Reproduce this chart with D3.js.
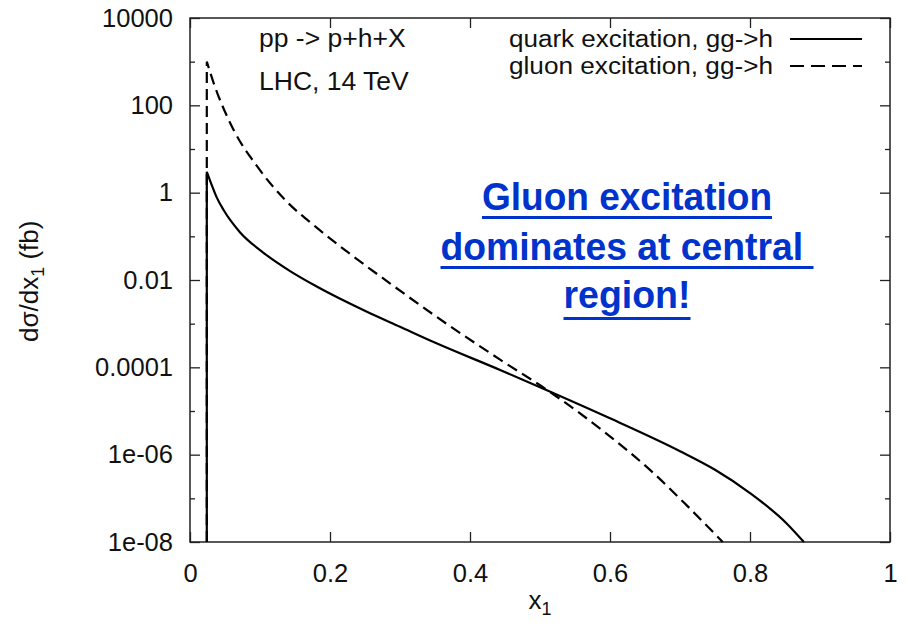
<!DOCTYPE html>
<html lang="en">
<head>
<meta charset="UTF-8"/>
<title>Quark vs gluon excitation, gg->h</title>
<script src="https://d3js.org/d3.v7.min.js"></script>
<style>
    body { margin: 0; background: #fff; }
    svg text { font-family: "Liberation Sans", Arial, sans-serif; }
</style>
</head>
<body>
<div id="chart"></div>
<script>
    // points (x1, dsigma/dx1 in fb)
    const quarkX = [0.024, 0.030, 0.038, 0.048, 0.071, 0.105, 0.143, 0.181, 0.252, 0.30, 0.348, 0.443, 0.50, 0.60, 0.70, 0.75, 0.80, 0.852, 0.877];
    const quarkY = [3.0, 1.66, 0.79, 0.40, 0.126, 0.042, 0.016, 0.0071, 0.0019, 8.5e-4, 3.8e-4, 8.7e-5, 3.5e-5, 6.8e-6, 1.2e-6, 4.5e-7, 1.32e-7, 2.7e-8, 1e-8];

    const gluonX = [0.024, 0.033, 0.062, 0.095, 0.133, 0.181, 0.224, 0.286, 0.348, 0.443, 0.514, 0.59, 0.662, 0.71, 0.761];
    const gluonY = [1000, 355, 28, 4.2, 0.76, 0.158, 0.045, 0.0083, 0.0016, 1.5e-4, 2.75e-5, 3.5e-6, 3.8e-7, 6.8e-8, 1e-8];

    const xTicks = [0, 0.2, 0.4, 0.6, 0.8, 1];
    const xTickLabels = ["0", "0.2", "0.4", "0.6", "0.8", "1"];
    const yTicks = [1e-8, 1e-6, 1e-4, 1e-2, 1, 100, 10000];
    const yTickLabels = ["1e-08", "1e-06", "0.0001", "0.01", "1", "100", "10000"];
    const yMinor = [1e-7, 1e-5, 1e-3, 0.1, 10, 1000];

    const seriesNames = ["quark excitation, gg->h", "gluon excitation, gg->h"];
    const noteLines = ["Gluon excitation", "dominates at central ", "region!"];

    const w = 906, h = 625;
    const margin = { top: 18, right: 16, bottom: 83, left: 190 };
    const x0 = margin.left, x1 = w - margin.right;
    const y0 = h - margin.bottom, y1 = margin.top;

    const svg = d3.select("#chart").append("svg")
        .attr("width", w)
        .attr("height", h);

    const x = d3.scaleLinear().domain([0, 1]).range([x0, x1]);
    const y = d3.scaleLog().domain([1e-8, 1e4]).range([y0, y1]);

    // axes, ticks pointing inward on all four sides
    const fmtX = d => xTickLabels[xTicks.indexOf(d)];
    const fmtY = d => yTickLabels[yTicks.indexOf(d)];

    svg.append("g").attr("transform", `translate(${x0},0)`)
        .call(d3.axisLeft(y).tickValues(yTicks).tickFormat(fmtY).tickSize(-10).tickPadding(17));
    svg.append("g").attr("transform", `translate(${x0},0)`)
        .call(d3.axisLeft(y).tickValues(yMinor).tickFormat("").tickSize(-5));
    svg.append("g").attr("transform", `translate(${x1},0)`)
        .call(d3.axisRight(y).tickValues(yTicks).tickFormat("").tickSize(-10));
    svg.append("g").attr("transform", `translate(${x1},0)`)
        .call(d3.axisRight(y).tickValues(yMinor).tickFormat("").tickSize(-5));
    svg.append("g").attr("transform", `translate(0,${y0})`)
        .call(d3.axisBottom(x).tickValues(xTicks).tickFormat(fmtX).tickSize(-10).tickPadding(22));
    svg.append("g").attr("transform", `translate(0,${y1})`)
        .call(d3.axisTop(x).tickValues(xTicks).tickFormat("").tickSize(-10));

    svg.selectAll(".domain").remove();
    svg.selectAll(".tick line").attr("stroke", "#222").attr("stroke-width", 1.3);
    svg.selectAll(".tick text").attr("font-size", 25.5).attr("fill", "#111")
        .attr("font-family", "Liberation Sans, Arial, sans-serif");

    // frame
    svg.append("rect")
        .attr("x", x0).attr("y", y1)
        .attr("width", x1 - x0).attr("height", y0 - y1)
        .attr("fill", "none").attr("stroke", "#222").attr("stroke-width", 1.5);

    // curves: vertical rise at threshold, then falling tail
    const line = d3.line()
        .x(d => x(d[0]))
        .y(d => y(d[1]))
        .curve(d3.curveMonotoneX);

    function curvePath(xs, ys) {
        const pts = xs.map((v, i) => [v, ys[i]]);
        return `M${x(xs[0])},${y(1e-8)}L` + line(pts).slice(1);
    }

    svg.append("path")
        .attr("d", curvePath(quarkX, quarkY))
        .attr("fill", "none").attr("stroke", "#000").attr("stroke-width", 2.2);

    svg.append("path")
        .attr("d", curvePath(gluonX, gluonY))
        .attr("fill", "none").attr("stroke", "#000").attr("stroke-width", 2.2)
        .attr("stroke-dasharray", "11,6");

    // legend
    const legend = svg.append("g");
    [0, 1].forEach(i => {
        const by = 47 + i * 27;
        legend.append("text")
            .attr("x", 773).attr("y", by)
            .attr("text-anchor", "end")
            .attr("font-size", 23)
            .attr("textLength", 264)
            .attr("lengthAdjust", "spacingAndGlyphs")
            .attr("fill", "#111")
            .text(seriesNames[i]);
        legend.append("line")
            .attr("x1", 790).attr("x2", 862)
            .attr("y1", by - 8).attr("y2", by - 8)
            .attr("stroke", "#000").attr("stroke-width", 2.2)
            .attr("stroke-dasharray", i === 1 ? "14,7" : null);
    });

    // process labels
    svg.append("text").attr("x", 259).attr("y", 47).attr("font-size", 26.5).attr("fill", "#111")
        .text("pp -> p+h+X");
    svg.append("text").attr("x", 259).attr("y", 90).attr("font-size", 26.5).attr("fill", "#111")
        .text("LHC, 14 TeV");

    // axis titles
    const yTitle = svg.append("text")
        .attr("transform", "translate(38,342) rotate(-90)")
        .attr("font-size", 26).attr("fill", "#111");
    yTitle.append("tspan").text("dσ/dx");
    yTitle.append("tspan").attr("font-size", 18).attr("dy", 6).text("1");
    yTitle.append("tspan").attr("dy", -6).text(" (fb)");

    const xTitle = svg.append("text")
        .attr("x", 540).attr("y", 609)
        .attr("text-anchor", "middle")
        .attr("font-size", 26).attr("fill", "#111");
    xTitle.append("tspan").text("x");
    xTitle.append("tspan").attr("font-size", 18).attr("dy", 6).text("1");

    // annotation
    const noteBase = [210, 260, 308];
    const noteLen = [290, 373, 127];
    noteLines.forEach((t, i) => {
        const tx = svg.append("text")
            .attr("x", 627).attr("y", noteBase[i])
            .attr("text-anchor", "middle")
            .attr("font-family", "Lato, 'Open Sans', sans-serif")
            .attr("font-weight", "bold")
            .attr("font-size", 38)
            .attr("fill", "#0033cc")
            .style("white-space", "pre")
            .attr("textLength", noteLen[i])
            .attr("lengthAdjust", "spacingAndGlyphs")
            .text(t);
        const bb = tx.node().getBBox();
        svg.append("rect")
            .attr("x", bb.x).attr("y", noteBase[i] + (i === 2 ? 9 : 6))
            .attr("width", bb.width).attr("height", 3)
            .attr("fill", "#0033cc");
    });
</script>
</body>
</html>
